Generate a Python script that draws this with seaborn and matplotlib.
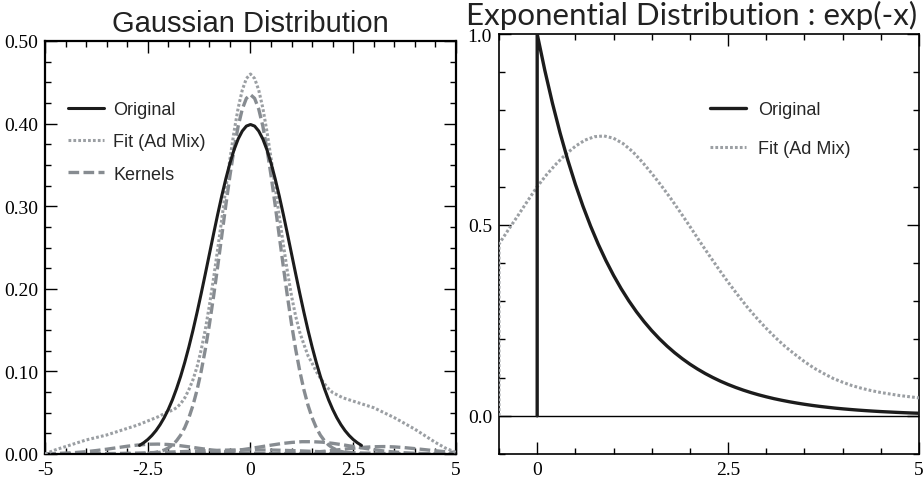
import numpy as np
import matplotlib
matplotlib.use("Agg")
import matplotlib.pyplot as plt
from matplotlib.ticker import MultipleLocator, FixedLocator, FuncFormatter
import seaborn as sns

# ---- data ----
# left panel: gaussian
gauss_orig_x = np.linspace(-2.7, 2.7, 55)
gauss_orig_half = [0.3970, 0.3910, 0.3814, 0.3683, 0.3521, 0.3332, 0.3123, 0.2897,
                   0.2661, 0.2420, 0.2179, 0.1942, 0.1714, 0.1497, 0.1295, 0.1109,
                   0.0940, 0.0790, 0.0656, 0.0540, 0.0440, 0.0355, 0.0283, 0.0224,
                   0.0175, 0.0136, 0.0104]
gauss_orig = gauss_orig_half[::-1] + [0.3989] + gauss_orig_half

fit_x = np.concatenate([np.linspace(-5, -2.25, 12), np.linspace(-2, 2, 41),
                        np.linspace(2.25, 5, 12)])
gauss_fit = [0.000, 0.005, 0.009, 0.013, 0.017, 0.020, 0.023, 0.027, 0.031, 0.035,
             0.040, 0.045,
             0.0513, 0.0529, 0.0560, 0.0608, 0.0679, 0.0778, 0.0899, 0.1056, 0.1261,
             0.1505, 0.1798, 0.2123, 0.2474, 0.2838, 0.3213, 0.3570, 0.3904, 0.4189,
             0.4406, 0.4546, 0.460, 0.4546, 0.4406, 0.4189, 0.3904, 0.3580, 0.3233,
             0.2878, 0.2534, 0.2203, 0.1908, 0.1665, 0.1471, 0.1326, 0.1189, 0.1098,
             0.0999, 0.0918, 0.0850, 0.0789, 0.0743,
             0.068, 0.064, 0.060, 0.056, 0.050, 0.044, 0.037, 0.030, 0.022, 0.014,
             0.007, 0.002]

kernel_main_x = np.linspace(-2.5, 2.5, 51)
kernel_main_half = [0.4306, 0.4176, 0.3969, 0.3694, 0.3370, 0.3013, 0.2638, 0.2264,
                    0.1903, 0.1568, 0.1265, 0.1001, 0.0776, 0.0589, 0.0438, 0.0319,
                    0.0228, 0.0160, 0.0109, 0.0073, 0.0048, 0.0031, 0.0020, 0.0012,
                    0.0007]
kernel_main = kernel_main_half[::-1] + [0.435] + kernel_main_half

# small broad kernels near the floor, grid -5..5 step 0.25
small_x = np.linspace(-5, 5, 41)
kernel_a = [0.0003, 0.0006, 0.0011, 0.0018, 0.0028, 0.0042, 0.0058, 0.0076, 0.0094,
            0.0108, 0.0118, 0.0120, 0.0115, 0.0103, 0.0087, 0.0069, 0.0052, 0.0036,
            0.0024, 0.0015, 0.0009, 0.0005, 0.0002, 0.0001,
            0, 0, 0, 0, 0, 0, 0, 0, 0, 0, 0, 0, 0, 0, 0, 0, 0]
kernel_b = [0, 0, 0, 0, 0, 0, 0, 0, 0, 0, 0, 0,
            0.0001, 0.0002, 0.0005, 0.0008, 0.0014, 0.0022, 0.0034, 0.0049, 0.0067,
            0.0087, 0.0107, 0.0126, 0.0140, 0.0149, 0.0149, 0.0143, 0.0129, 0.0111,
            0.0091, 0.0071, 0.0052, 0.0036, 0.0024, 0.0015, 0.0009, 0.0005, 0.0003,
            0.0001, 0.0001]
kernel_c = [0, 0, 0, 0, 0, 0, 0, 0, 0, 0, 0, 0, 0, 0, 0, 0, 0, 0, 0, 0, 0,
            0.0001, 0.0002, 0.0004, 0.0008, 0.0013, 0.0021, 0.0031, 0.0044, 0.0057,
            0.0070, 0.0081, 0.0088, 0.0090, 0.0086, 0.0077, 0.0065, 0.0052, 0.0039,
            0.0027, 0.0018]
kernel_d = [0.0000, 0.0000, 0.0001, 0.0001, 0.0002, 0.0003, 0.0005, 0.0006, 0.0009,
            0.0011, 0.0015, 0.0019, 0.0023, 0.0027, 0.0032, 0.0037, 0.0041, 0.0045,
            0.0048, 0.0049, 0.0050, 0.0049, 0.0048, 0.0045, 0.0041, 0.0037, 0.0032,
            0.0027, 0.0023, 0.0019, 0.0015, 0.0011, 0.0009, 0.0006, 0.0005, 0.0003,
            0.0002, 0.0001, 0.0001, 0.0000, 0.0000]
small_kernels = [kernel_a, kernel_b, kernel_c, kernel_d]

# right panel: exponential (the jump at x=0 is part of the curve)
exp_x = [0] + list(np.linspace(0, 5, 51))
exp_orig = [0, 1.0000, 0.9048, 0.8187, 0.7408, 0.6703, 0.6065, 0.5488, 0.4966, 0.4493,
            0.4066, 0.3679, 0.3329, 0.3012, 0.2725, 0.2466, 0.2231, 0.2019, 0.1827,
            0.1653, 0.1496, 0.1353, 0.1225, 0.1108, 0.1003, 0.0907, 0.0821, 0.0743,
            0.0672, 0.0608, 0.0550, 0.0498, 0.0450, 0.0408, 0.0369, 0.0334, 0.0302,
            0.0273, 0.0247, 0.0224, 0.0202, 0.0183, 0.0166, 0.0150, 0.0136, 0.0123,
            0.0111, 0.0101, 0.0091, 0.0082, 0.0074, 0.0067]
exp_fit_x = [-0.5] + list(np.linspace(-0.5, 5, 45))
exp_fit = [0, 0.450, 0.488, 0.525, 0.563, 0.600, 0.632, 0.660, 0.685, 0.706, 0.722,
           0.731, 0.733, 0.727, 0.713, 0.692, 0.665, 0.635, 0.603, 0.569, 0.533,
           0.496, 0.458, 0.421, 0.385, 0.350, 0.317, 0.285, 0.256, 0.229, 0.204,
           0.181, 0.161, 0.142, 0.125, 0.111, 0.098, 0.088, 0.079, 0.072, 0.066,
           0.061, 0.057, 0.053, 0.050, 0.047]

BLACK = "#1c1c1c"
DOT = "#9b9fa3"
DASH = "#878c91"

sns.set_style("ticks")
plt.rcParams["font.family"] = ["Liberation Serif", "DejaVu Serif"]

fig = plt.figure(figsize=(9.23, 4.85), dpi=100)
W, H = 923, 485


def px_axes(l, t, r, b):
    return fig.add_axes([l / W, (H - b) / H, (r - l) / W, (b - t) / H])


def style_ticks(ax, lw):
    for s in ax.spines.values():
        s.set_linewidth(lw)
        s.set_color("black")
    ax.tick_params(which="both", direction="in", top=True, right=True,
                   colors="black", labelsize=14, pad=5)
    ax.tick_params(which="major", length=8.5, width=1)
    ax.tick_params(which="minor", length=4, width=1)
    ax.grid(False)


dash_style = (0, (3.2, 1.3))
dot_style = (0, (0.9, 0.7))

# ---- left: Gaussian ----
ax1 = px_axes(45, 42, 456, 455)
for k in small_kernels:
    sns.lineplot(x=small_x, y=k, ax=ax1, color=DASH, lw=2.4, linestyle=dash_style,
                 estimator=None, sort=False, zorder=2)
sns.lineplot(x=kernel_main_x, y=kernel_main, ax=ax1, color=DASH, lw=2.4,
             linestyle=dash_style, estimator=None, sort=False, label="Kernels",
             zorder=2)
sns.lineplot(x=fit_x, y=gauss_fit, ax=ax1, color=DOT, lw=2.2, linestyle=dot_style,
             estimator=None, sort=False, label="Fit (Ad Mix)", zorder=3)
sns.lineplot(x=gauss_orig_x, y=gauss_orig, ax=ax1, color=BLACK, lw=2.2,
             estimator=None, sort=False, label="Original", zorder=4)
ax1.set_xlim(-5, 5)
ax1.set_ylim(0, 0.5)
ax1.xaxis.set_major_locator(FixedLocator([-5, -2.5, 0, 2.5, 5]))
ax1.xaxis.set_minor_locator(MultipleLocator(0.5))
ax1.xaxis.set_major_formatter(FuncFormatter(lambda v, p: f"{v:g}"))
ax1.yaxis.set_major_locator(MultipleLocator(0.1))
ax1.yaxis.set_minor_locator(MultipleLocator(0.025))
ax1.yaxis.set_major_formatter(FuncFormatter(lambda v, p: f"{v:.2f}"))
ax1.set_xlabel("")
ax1.set_ylabel("")
style_ticks(ax1, 1.6)
ax1.set_title("Gaussian Distribution", fontsize=21, pad=7,
              family=["Liberation Sans", "DejaVu Sans"], color="#222222")

h, l = ax1.get_legend_handles_labels()
order = [l.index("Original"), l.index("Fit (Ad Mix)"), l.index("Kernels")]
ax1.legend([h[i] for i in order], [l[i] for i in order], loc="upper left",
           bbox_to_anchor=(0.056, 0.855), frameon=False, borderpad=0,
           borderaxespad=0, handlelength=2.0, handletextpad=0.5,
           labelspacing=0.85, prop={"family": "Liberation Sans", "size": 13})

# ---- right: Exponential ----
ax2 = px_axes(499, 35, 919, 455)
ax2.axhline(0, color="black", lw=1, zorder=1)
sns.lineplot(x=exp_fit_x, y=exp_fit, ax=ax2, color=DOT, lw=2.2, linestyle=dot_style,
             estimator=None, sort=False, label="Fit (Ad Mix)", zorder=3)
sns.lineplot(x=exp_x, y=exp_orig, ax=ax2, color=BLACK, lw=2.4,
             estimator=None, sort=False, label="Original", zorder=4)
ax2.set_xlim(-0.5, 5)
ax2.set_ylim(-0.1, 1.0)
ax2.xaxis.set_major_locator(FixedLocator([0, 2.5, 5]))
ax2.xaxis.set_minor_locator(MultipleLocator(0.5))
ax2.xaxis.set_major_formatter(FuncFormatter(lambda v, p: f"{v:g}"))
ax2.yaxis.set_major_locator(FixedLocator([0, 0.5, 1.0]))
ax2.yaxis.set_minor_locator(MultipleLocator(0.1))
ax2.yaxis.set_major_formatter(FuncFormatter(lambda v, p: f"{v:.1f}"))
ax2.set_xlabel("")
ax2.set_ylabel("")
style_ticks(ax2, 1.2)
ax2.set_title("Exponential Distribution : exp(-x)", fontsize=22.5, pad=7, x=0.458,
              family=["Lato", "DejaVu Sans"], color="#222222")

h, l = ax2.get_legend_handles_labels()
order = [l.index("Original"), l.index("Fit (Ad Mix)")]
ax2.legend([h[i] for i in order], [l[i] for i in order], loc="upper left",
           bbox_to_anchor=(0.502, 0.84), frameon=False, borderpad=0,
           borderaxespad=0, handlelength=2.0, handletextpad=0.65,
           labelspacing=1.22, prop={"family": "Liberation Sans", "size": 13})

fig.savefig("out.png", dpi=100)
